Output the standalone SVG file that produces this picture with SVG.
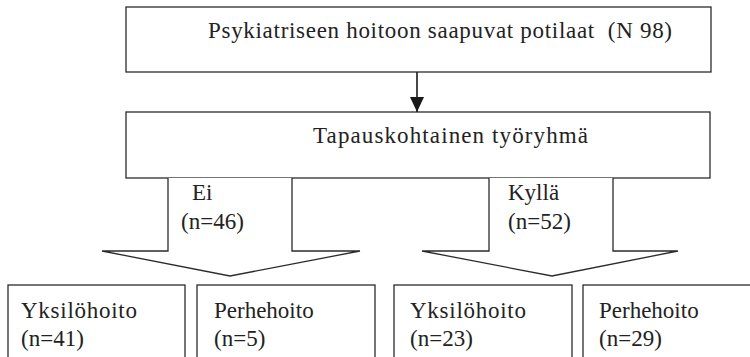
<svg xmlns="http://www.w3.org/2000/svg" width="750" height="357" viewBox="0 0 750 357">
  <defs>
    <style>
      .box { fill: #ffffff; stroke: #2b2b2b; stroke-width: 1.3; }
      .link { fill: none; stroke: #1a1a1a; stroke-width: 1.6; }
    </style>
    <marker id="arrowhead" viewBox="0 0 15 14" refX="15" refY="7" markerWidth="15" markerHeight="14" markerUnits="userSpaceOnUse" orient="auto">
      <path d="M0,0 L15,7 L0,14 Z" fill="#1a1a1a"/>
    </marker>
  </defs>
  <rect width="750" height="357" fill="#ffffff"/>

  <g id="node-patients">
    <rect class="box" x="126" y="7" width="585" height="65"/>
    <text font-family="Liberation Serif" font-size="23" fill="#222222" x="208" y="38" textLength="464" lengthAdjust="spacing" xml:space="preserve">Psykiatriseen hoitoon saapuvat potilaat  (N 98)</text>
  </g>

  <g id="node-team">
    <rect class="box" x="126" y="112" width="584" height="66"/>
    <text font-family="Liberation Serif" font-size="23" fill="#222222" x="313" y="143" textLength="275" lengthAdjust="spacing">Tapauskohtainen työryhmä</text>
  </g>

  <g id="connectors">
    <line class="link" x1="417" y1="72" x2="417" y2="112" marker-end="url(#arrowhead)"/>
    <g id="branch-no">
      <path class="box" d="M168,178 L168,251 L102,251 L230,276 L360,251 L292,251 L292,178"/>
      <text font-family="Liberation Serif" font-size="23" fill="#222222" x="192" y="200">Ei</text>
      <text font-family="Liberation Serif" font-size="23" fill="#222222" x="181" y="229">(n=46)</text>
    </g>
    <g id="branch-yes">
      <path class="box" d="M489,178 L489,251 L422,251 L552,276 L678,251 L613,251 L613,178"/>
      <text font-family="Liberation Serif" font-size="23" fill="#222222" x="508" y="200">Kyllä</text>
      <text font-family="Liberation Serif" font-size="23" fill="#222222" x="508" y="229">(n=52)</text>
    </g>
  </g>

  <g id="node-no-individual">
    <rect class="box" x="8" y="285" width="177" height="80"/>
    <text font-family="Liberation Serif" font-size="23" fill="#222222" x="21" y="318" textLength="116" lengthAdjust="spacing">Yksilöhoito</text>
    <text font-family="Liberation Serif" font-size="23" fill="#222222" x="21" y="346">(n=41)</text>
  </g>
  <g id="node-no-family">
    <rect class="box" x="197" y="285" width="178" height="80"/>
    <text font-family="Liberation Serif" font-size="23" fill="#222222" x="214" y="318">Perhehoito</text>
    <text font-family="Liberation Serif" font-size="23" fill="#222222" x="214" y="346">(n=5)</text>
  </g>
  <g id="node-yes-individual">
    <rect class="box" x="394" y="285" width="178" height="80"/>
    <text font-family="Liberation Serif" font-size="23" fill="#222222" x="410" y="318" textLength="116" lengthAdjust="spacing">Yksilöhoito</text>
    <text font-family="Liberation Serif" font-size="23" fill="#222222" x="410" y="346">(n=23)</text>
  </g>
  <g id="node-yes-family">
    <rect class="box" x="583" y="285" width="180" height="80"/>
    <text font-family="Liberation Serif" font-size="23" fill="#222222" x="599" y="318">Perhehoito</text>
    <text font-family="Liberation Serif" font-size="23" fill="#222222" x="599" y="346">(n=29)</text>
  </g>
</svg>
